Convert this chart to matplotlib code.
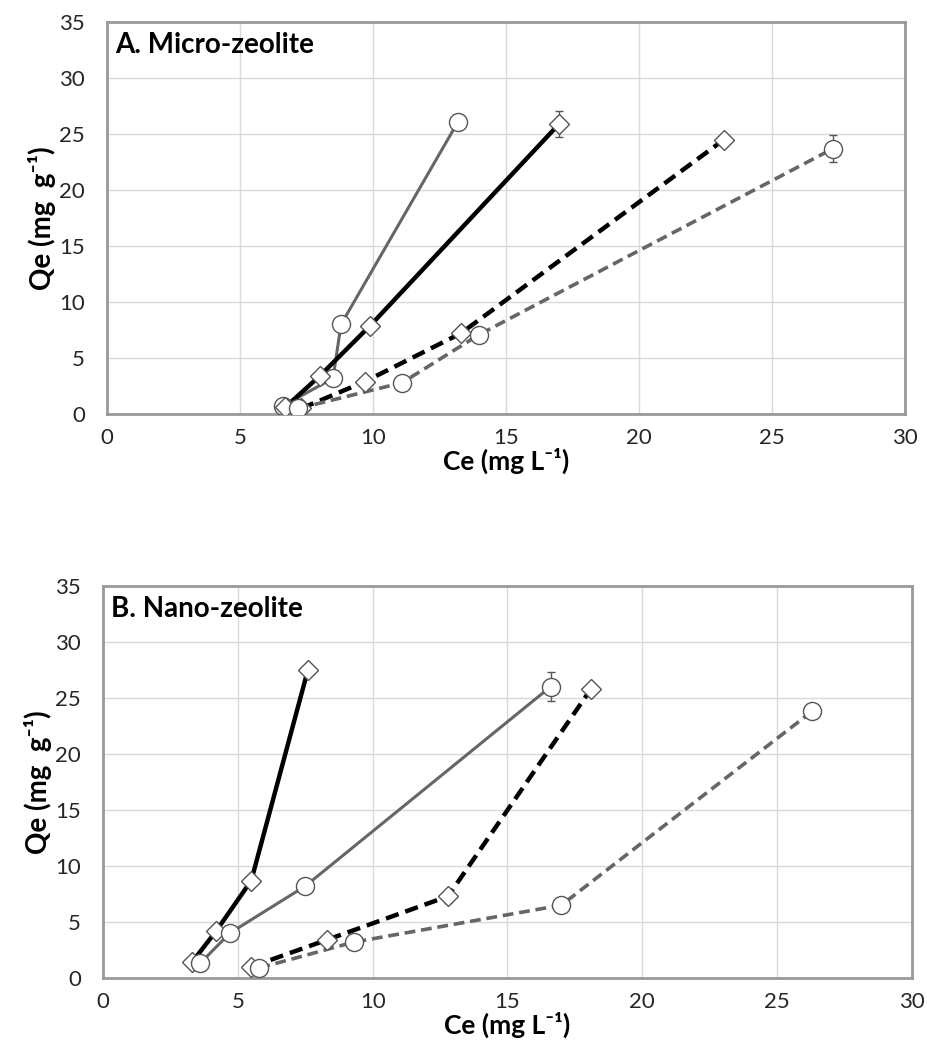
import matplotlib.pyplot as plt

plt.rcParams['font.family'] = ['Lato', 'DejaVu Sans']

# panel A: micro-zeolite
a_gray_solid_x = [6.6, 8.5, 8.8, 13.2]
a_gray_solid_y = [0.7, 3.2, 8.0, 26.1]
a_black_solid_x = [6.7, 8.0, 9.9, 17.0]
a_black_solid_y = [0.6, 3.4, 7.9, 25.9]
a_black_solid_err = [0, 0, 0, 1.2]
a_black_dash_x = [7.3, 9.7, 13.3, 23.2]
a_black_dash_y = [0.5, 2.9, 7.2, 24.5]
a_gray_dash_x = [7.2, 11.1, 14.0, 27.3]
a_gray_dash_y = [0.5, 2.8, 7.1, 23.7]
a_gray_dash_err = [0, 0, 0, 1.2]

# panel B: nano-zeolite
b_black_solid_x = [3.3, 4.2, 5.5, 7.6]
b_black_solid_y = [1.4, 4.2, 8.7, 27.5]
b_gray_solid_x = [3.6, 4.7, 7.5, 16.6]
b_gray_solid_y = [1.3, 4.0, 8.2, 26.0]
b_gray_solid_err = [0, 0, 0, 1.3]
b_black_dash_x = [5.5, 8.3, 12.8, 18.1]
b_black_dash_y = [1.0, 3.4, 7.3, 25.8]
b_black_dash_err = [0, 0, 0.6, 0]
b_gray_dash_x = [5.8, 9.3, 17.0, 26.3]
b_gray_dash_y = [0.9, 3.2, 6.5, 23.8]

xticks = [0, 5, 10, 15, 20, 25, 30]
yticks = [0, 5, 10, 15, 20, 25, 30, 35]

GRAY = '#666666'
EDGE = '#555555'


def series(ax, x, y, color, ls, lw, marker, ms, err=None):
    if err is not None:
        ax.errorbar(x, y, yerr=err, fmt='none', ecolor=EDGE, elinewidth=1,
                    capsize=3, capthick=1, zorder=2)
    ax.plot(x, y, color=color, ls=ls, lw=lw, zorder=3)
    ax.plot(x, y, ls='none', marker=marker, ms=ms, mfc='white',
            mec=EDGE, mew=1, zorder=4)


def style(ax, title):
    ax.set_xlim(0, 30)
    ax.set_ylim(0, 35)
    ax.set_xticks(xticks)
    ax.set_yticks(yticks)
    ax.grid(True, color='#d9d9d9', lw=1)
    ax.set_axisbelow(True)
    ax.tick_params(length=0, labelsize=16, colors='#262626')
    ax.tick_params(axis='y', pad=16)
    ax.tick_params(axis='x', pad=10)
    for s in ax.spines.values():
        s.set_color('#999999')
        s.set_linewidth(2)
    ax.text(0.01, 0.975, title, transform=ax.transAxes, ha='left', va='top',
            fontsize=20, fontweight='bold')
    ax.set_ylabel('Qe (mg  g⁻¹)', fontsize=20, fontweight='bold', labelpad=2)
    ax.set_xlabel('Ce (mg L⁻¹)', fontsize=19, fontweight='bold', labelpad=0)


fig = plt.figure(figsize=(9.28, 10.49), dpi=100)
ax1 = fig.add_axes([0.1153, 0.6053, 0.8597, 0.3737])
ax2 = fig.add_axes([0.1110, 0.0677, 0.8715, 0.3737])

series(ax1, a_gray_solid_x, a_gray_solid_y, GRAY, '-', 2.2, 'o', 13)
series(ax1, a_black_solid_x, a_black_solid_y, 'black', '-', 3.2, 'D', 10,
       a_black_solid_err)
series(ax1, a_black_dash_x, a_black_dash_y, 'black', (0, (3, 1.6)), 3.2, 'D', 10)
series(ax1, a_gray_dash_x, a_gray_dash_y, GRAY, (0, (3, 1.6)), 2.6, 'o', 13,
       a_gray_dash_err)
style(ax1, 'A. Micro-zeolite')

series(ax2, b_black_solid_x, b_black_solid_y, 'black', '-', 3.2, 'D', 10)
series(ax2, b_gray_solid_x, b_gray_solid_y, GRAY, '-', 2.2, 'o', 13,
       b_gray_solid_err)
series(ax2, b_black_dash_x, b_black_dash_y, 'black', (0, (3, 1.6)), 3.2, 'D', 10,
       b_black_dash_err)
series(ax2, b_gray_dash_x, b_gray_dash_y, GRAY, (0, (3, 1.6)), 2.6, 'o', 13)
style(ax2, 'B. Nano-zeolite')

fig.savefig('out.png', dpi=100)
